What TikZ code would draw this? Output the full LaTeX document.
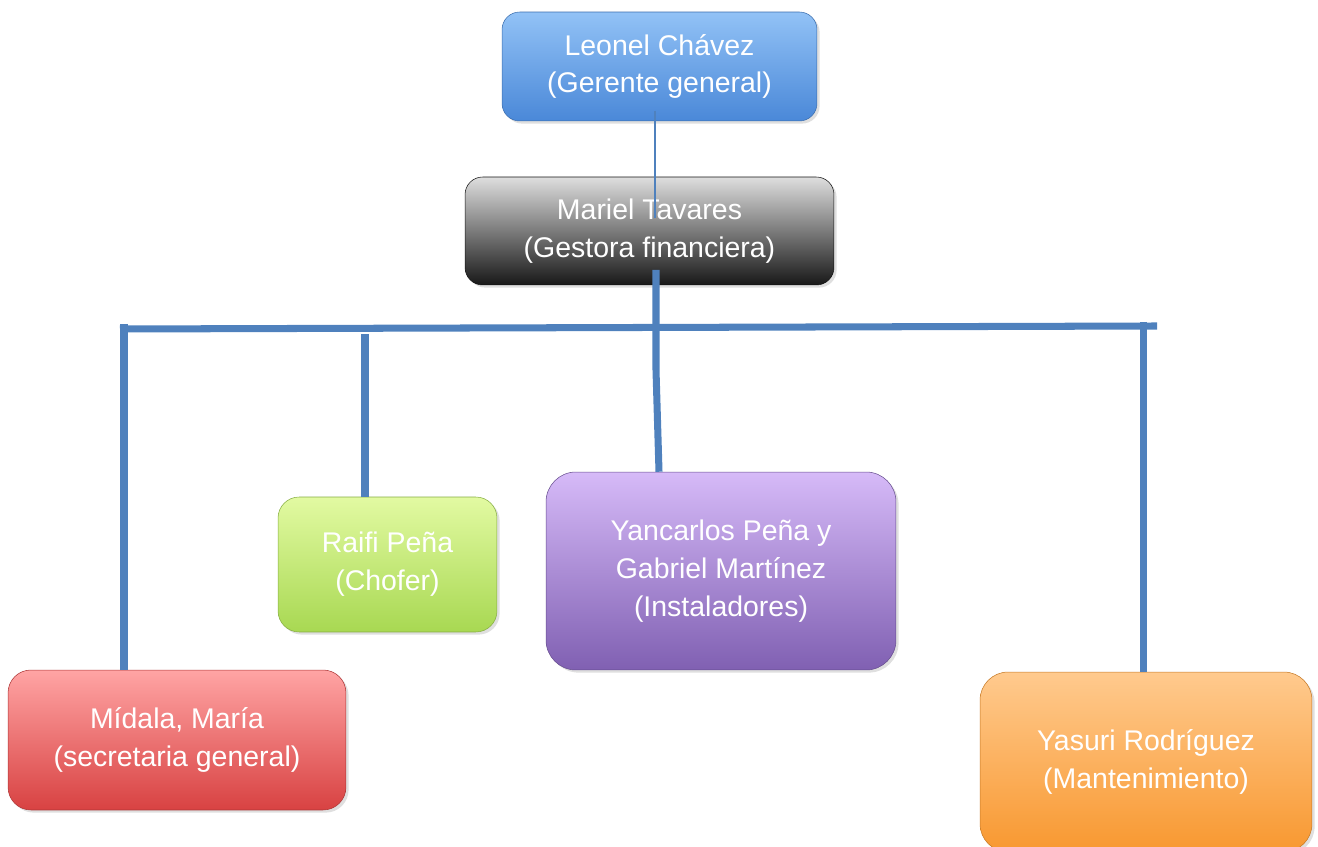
\documentclass[tikz,border=0pt]{standalone}
\usepackage{fontspec}
\setmainfont{Liberation Sans}
\usetikzlibrary{shadows}
\definecolor{linkblue}{RGB}{79,129,189}
\definecolor{bluehi}{RGB}{146,194,246}
\definecolor{bluelo}{RGB}{74,136,216}
\definecolor{grayhi}{RGB}{222,222,222}
\definecolor{graylo}{RGB}{24,24,24}
\definecolor{greenhi}{RGB}{226,250,162}
\definecolor{greenlo}{RGB}{168,216,82}
\definecolor{purplehi}{RGB}{214,186,248}
\definecolor{purplelo}{RGB}{128,96,178}
\definecolor{redhi}{RGB}{255,164,164}
\definecolor{redlo}{RGB}{216,66,66}
\definecolor{orangehi}{RGB}{255,202,142}
\definecolor{orangelo}{RGB}{248,152,48}

\begin{document}
\begin{tikzpicture}[
    x=0.02cm, y=-0.02cm,
    staffbox/.style={rectangle, rounded corners=11pt, text=white, align=center, font=\fontsize{16.2}{21.5}\selectfont, draw=#1lo!80!black, line width=0.3pt, top color=#1hi, bottom color=#1lo, drop shadow={opacity=0.25, shadow xshift=1.5pt, shadow yshift=-1.5pt}},
    thinlink/.style={draw=linkblue, line width=0.9pt},
    thicklink/.style={draw=linkblue, line width=4pt}
]
    \useasboundingbox (0,0) rectangle (1318,847);
    \clip (0,0) rectangle (1318,847);

    % Boxes
    \node[staffbox=blue, rounded corners=10pt, minimum width=6.3cm, minimum height=2.18cm] (leonel) at (659.5,66.5) {Leonel Chávez\\(Gerente general)};
    \node[staffbox=gray, rounded corners=10pt, minimum width=7.38cm, minimum height=2.16cm] (mariel) at (649.5,231) {Mariel Tavares\\(Gestora financiera)};
    \node[staffbox=green, rounded corners=12pt, minimum width=4.38cm, minimum height=2.7cm] (raifi) at (387.5,564.5) {Raifi Peña\\(Chofer)};
    \node[staffbox=purple, rounded corners=17pt, minimum width=7.0cm, minimum height=3.96cm] (yancarlos) at (721,571) {Yancarlos Peña y\\Gabriel Martínez\\(Instaladores)};
    \node[staffbox=red, rounded corners=13pt, minimum width=6.76cm, minimum height=2.8cm] (midala) at (177,740) {Mídala, María\\(secretaria general)};
    \node[staffbox=orange, rounded corners=16pt, minimum width=6.64cm, minimum height=3.6cm] (yasuri) at (1146,762) {Yasuri Rodríguez\\(Mantenimiento)};

    % Bar and drops
    \coordinate (gtop) at (655,111);
    \coordinate (gbot) at (655,218);
    \coordinate (hubtop) at (656,270);
    \coordinate (hub) at (656,370);
    \coordinate (inst) at (659,0);
    \coordinate (barL) at (120,329);
    \coordinate (barR) at (1157,326);
    \coordinate (dropL) at (124,324);
    \coordinate (dropC) at (365,334);
    \coordinate (dropR) at (1143,322);

    \draw[thinlink] (gtop) -- (gbot);
    \draw[thicklink] (hubtop) -- (hub) -- (inst |- yancarlos.north);
    \draw[thicklink] (barL) -- (barR);
    \draw[thicklink] (dropL) -- (dropL |- midala.north);
    \draw[thicklink] (dropC) -- (dropC |- raifi.north);
    \draw[thicklink] (dropR) -- (dropR |- yasuri.north);
\end{tikzpicture}
\end{document}
